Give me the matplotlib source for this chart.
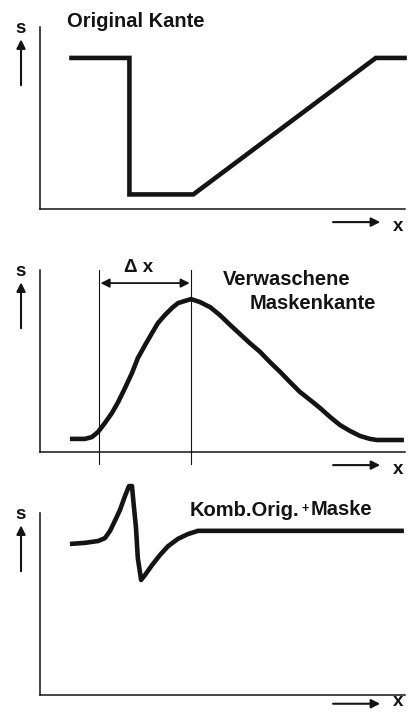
import numpy as np
import matplotlib
matplotlib.use('Agg')
import matplotlib.pyplot as plt

plt.rcParams['font.family'] = ['Liberation Sans', 'DejaVu Sans']

# Originalkante: Stufe nach unten, dann lineare Rampe
orig_x = [0.8, 2.45, 2.45, 4.2, 9.2, 10.05]
orig_y = [4.15, 4.15, 0.4, 0.4, 4.15, 4.15]

# verwaschene Maskenkante
mask_x = [0.82, 1.23, 1.42, 1.59, 1.78, 1.97, 2.14, 2.33, 2.52, 2.68, 2.88, 3.07,
          3.23, 3.42, 3.62, 3.78, 3.97, 4.14, 4.38, 4.66, 4.93, 5.21, 5.48, 5.75,
          6.03, 6.30, 6.58, 6.85, 7.12, 7.40, 7.67, 7.95, 8.22, 8.49, 8.77, 9.04,
          9.23, 9.97]
mask_y = [0.36, 0.36, 0.41, 0.55, 0.80, 1.07, 1.37, 1.76, 2.17, 2.58, 2.94, 3.27,
          3.54, 3.76, 3.96, 4.09, 4.15, 4.20, 4.12, 3.98, 3.76, 3.49, 3.24, 2.99,
          2.75, 2.47, 2.20, 1.92, 1.65, 1.43, 1.21, 0.96, 0.74, 0.58, 0.44, 0.36,
          0.33, 0.33]

# Kombination Original + Maske
komb_x = [0.82, 1.23, 1.59, 1.78, 1.92, 2.05, 2.19, 2.33, 2.44, 2.52, 2.55, 2.63,
          2.68, 2.77, 2.88, 3.07, 3.29, 3.51, 3.78, 4.05, 4.33, 9.97]
komb_y = [4.15, 4.18, 4.23, 4.31, 4.51, 4.78, 5.08, 5.47, 5.74, 5.74, 5.41, 4.59,
          3.76, 3.16, 3.30, 3.57, 3.85, 4.09, 4.29, 4.42, 4.51, 4.51]

# Breite der Verwaschung (Delta x)
dx_start = 1.62
dx_end = 4.14

schwarz = '#141414'
fs_titel = 14.5

def achsen(fig, unten):
    ax = fig.add_axes([40/413, unten, 365/413, 182/713])
    ax.set_xlim(0, 10)
    ax.set_ylim(0, 5)
    for s in ['top', 'right']:
        ax.spines[s].set_visible(False)
    for s in ['left', 'bottom']:
        ax.spines[s].set_linewidth(1.1)
        ax.spines[s].set_color(schwarz)
    ax.set_xticks([])
    ax.set_yticks([])
    ax.patch.set_alpha(0)
    # Achsenbeschriftung s mit Pfeil nach oben
    ax.text(-0.52, 4.95, 's', fontsize=13.5, fontweight='bold', ha='center',
            va='center', color=schwarz, clip_on=False)
    ax.annotate('', xy=(-0.52, 4.66), xytext=(-0.52, 3.4),
                arrowprops=dict(arrowstyle='-|>', lw=1.5, color=schwarz,
                                mutation_scale=13, shrinkA=0, shrinkB=0),
                annotation_clip=False)
    return ax

def x_pfeil(ax, y, y_text):
    ax.annotate('', xy=(9.32, y), xytext=(8.03, y),
                arrowprops=dict(arrowstyle='-|>', lw=1.5, color=schwarz,
                                mutation_scale=13, shrinkA=0, shrinkB=0),
                annotation_clip=False)
    ax.text(9.81, y_text, 'x', fontsize=13.5, fontweight='bold', ha='center',
            va='center', color=schwarz, clip_on=False)

fig = plt.figure(figsize=(4.13, 7.13), dpi=100)

# Panel 1
ax1 = achsen(fig, 1 - 209/713)
ax1.plot(orig_x, orig_y, color=schwarz, lw=3.3, solid_joinstyle='miter',
         solid_capstyle='butt', clip_on=False)
ax1.text(0.74, 5.14, 'Original Kante', fontsize=fs_titel, fontweight='bold',
         ha='left', va='center', color=schwarz, clip_on=False)
x_pfeil(ax1, -0.36, -0.48)

# Panel 2
ax2 = achsen(fig, 1 - 452/713)
ax2.plot(mask_x, mask_y, color=schwarz, lw=3.3, solid_capstyle='butt',
         clip_on=False)
for xv in [dx_start, dx_end]:
    ax2.plot([xv, xv], [-0.33, 5.0], color=schwarz, lw=0.8, clip_on=False)
ax2.annotate('', xy=(dx_end, 4.64), xytext=(dx_start, 4.64),
             arrowprops=dict(arrowstyle='<|-|>', lw=1.3, color=schwarz,
                             mutation_scale=13, shrinkA=1, shrinkB=1),
             annotation_clip=False)
ax2.text(2.71, 5.08, '\u0394 x', fontsize=13.5, fontweight='bold',
         ha='center', va='center', color=schwarz, clip_on=False)
ax2.text(5.01, 4.73, 'Verwaschene', fontsize=fs_titel, fontweight='bold',
         ha='left', va='center', color=schwarz)
ax2.text(5.75, 4.07, 'Maskenkante', fontsize=fs_titel, fontweight='bold',
         ha='left', va='center', color=schwarz)
x_pfeil(ax2, -0.36, -0.48)

# Panel 3
ax3 = achsen(fig, 1 - 695/713)
ax3.plot(komb_x, komb_y, color=schwarz, lw=3.3, solid_capstyle='butt',
         clip_on=False)
t1 = ax3.text(4.11, 5.08, 'Komb.Orig.', fontsize=fs_titel, fontweight='bold',
              ha='left', va='center', color=schwarz, clip_on=False)
t2 = ax3.annotate('+', xy=(1, 0.5), xycoords=t1, xytext=(1.5, 0.5),
                  textcoords='offset points', fontsize=9, fontweight='bold',
                  ha='left', va='center', color=schwarz)
ax3.annotate('Maske', xy=(1, 0.5), xycoords=t2, xytext=(1.5, 0),
             textcoords='offset points', fontsize=fs_titel, fontweight='bold',
             ha='left', va='center', color=schwarz)
x_pfeil(ax3, -0.24, -0.19)

fig.savefig('out.png', dpi=100)
